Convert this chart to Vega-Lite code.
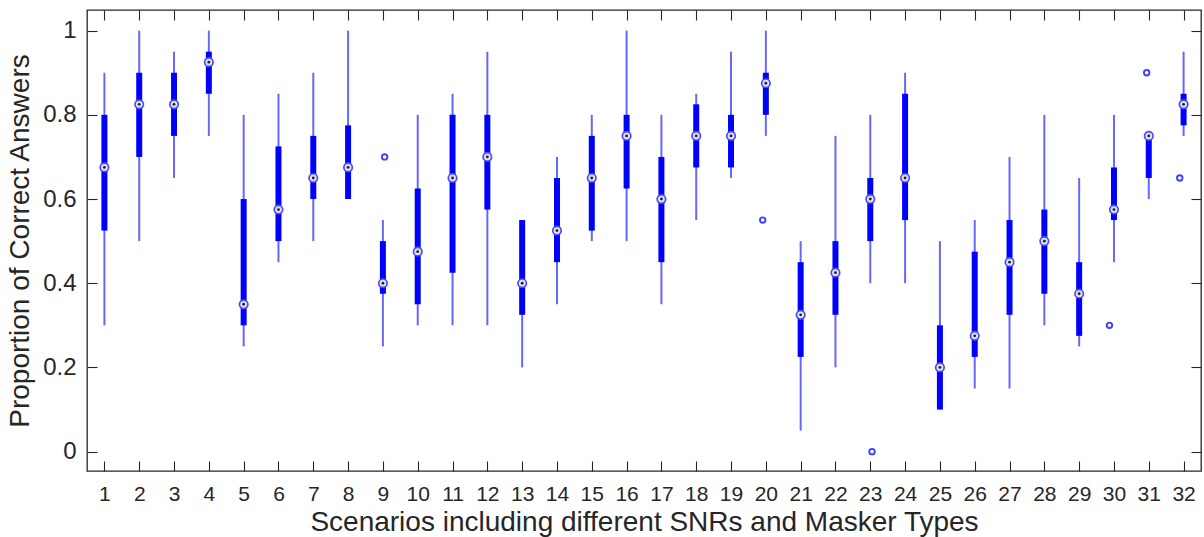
{
  "$schema": "https://vega.github.io/schema/vega-lite/v6.json",
  "width": 1114,
  "height": 461,
  "autosize": "none",
  "padding": {"left": 87, "top": 10, "right": 3, "bottom": 66},
  "background": "white",
  "config": {
    "view": {"stroke": "#262626", "strokeWidth": 1.3},
    "font": "Liberation Sans",
    "axis": {
      "domain": false,
      "grid": false,
      "tickSize": 10,
      "offset": -10,
      "tickColor": "#262626",
      "tickWidth": 1.1,
      "labelFont": "Liberation Sans",
      "labelColor": "#262626",
      "titleFont": "Liberation Sans",
      "titleColor": "#262626",
      "titleFontWeight": "normal",
      "titleFontSize": 28
    }
  },
  "datasets": {
    "boxes": [
      {"s": 1, "lo": 0.3, "q1": 0.525, "med": 0.675, "q3": 0.8, "hi": 0.9},
      {"s": 2, "lo": 0.5, "q1": 0.7, "med": 0.825, "q3": 0.9, "hi": 1.0},
      {"s": 3, "lo": 0.65, "q1": 0.75, "med": 0.825, "q3": 0.9, "hi": 0.95},
      {"s": 4, "lo": 0.75, "q1": 0.85, "med": 0.925, "q3": 0.95, "hi": 1.0},
      {"s": 5, "lo": 0.25, "q1": 0.3, "med": 0.35, "q3": 0.6, "hi": 0.8},
      {"s": 6, "lo": 0.45, "q1": 0.5, "med": 0.575, "q3": 0.725, "hi": 0.85},
      {"s": 7, "lo": 0.5, "q1": 0.6, "med": 0.65, "q3": 0.75, "hi": 0.9},
      {"s": 8, "lo": 0.6, "q1": 0.6, "med": 0.675, "q3": 0.775, "hi": 1.0},
      {"s": 9, "lo": 0.25, "q1": 0.375, "med": 0.4, "q3": 0.5, "hi": 0.55},
      {"s": 10, "lo": 0.3, "q1": 0.35, "med": 0.475, "q3": 0.625, "hi": 0.8},
      {"s": 11, "lo": 0.3, "q1": 0.425, "med": 0.65, "q3": 0.8, "hi": 0.85},
      {"s": 12, "lo": 0.3, "q1": 0.575, "med": 0.7, "q3": 0.8, "hi": 0.95},
      {"s": 13, "lo": 0.2, "q1": 0.325, "med": 0.4, "q3": 0.55, "hi": 0.55},
      {"s": 14, "lo": 0.35, "q1": 0.45, "med": 0.525, "q3": 0.65, "hi": 0.7},
      {"s": 15, "lo": 0.5, "q1": 0.525, "med": 0.65, "q3": 0.75, "hi": 0.8},
      {"s": 16, "lo": 0.5, "q1": 0.625, "med": 0.75, "q3": 0.8, "hi": 1.0},
      {"s": 17, "lo": 0.35, "q1": 0.45, "med": 0.6, "q3": 0.7, "hi": 0.8},
      {"s": 18, "lo": 0.55, "q1": 0.675, "med": 0.75, "q3": 0.825, "hi": 0.85},
      {"s": 19, "lo": 0.65, "q1": 0.675, "med": 0.75, "q3": 0.8, "hi": 0.95},
      {"s": 20, "lo": 0.75, "q1": 0.8, "med": 0.875, "q3": 0.9, "hi": 1.0},
      {"s": 21, "lo": 0.05, "q1": 0.225, "med": 0.325, "q3": 0.45, "hi": 0.5},
      {"s": 22, "lo": 0.2, "q1": 0.325, "med": 0.425, "q3": 0.5, "hi": 0.75},
      {"s": 23, "lo": 0.4, "q1": 0.5, "med": 0.6, "q3": 0.65, "hi": 0.8},
      {"s": 24, "lo": 0.4, "q1": 0.55, "med": 0.65, "q3": 0.85, "hi": 0.9},
      {"s": 25, "lo": 0.1, "q1": 0.1, "med": 0.2, "q3": 0.3, "hi": 0.5},
      {"s": 26, "lo": 0.15, "q1": 0.225, "med": 0.275, "q3": 0.475, "hi": 0.55},
      {"s": 27, "lo": 0.15, "q1": 0.325, "med": 0.45, "q3": 0.55, "hi": 0.7},
      {"s": 28, "lo": 0.3, "q1": 0.375, "med": 0.5, "q3": 0.575, "hi": 0.8},
      {"s": 29, "lo": 0.25, "q1": 0.275, "med": 0.375, "q3": 0.45, "hi": 0.65},
      {"s": 30, "lo": 0.45, "q1": 0.55, "med": 0.575, "q3": 0.675, "hi": 0.8},
      {"s": 31, "lo": 0.6, "q1": 0.65, "med": 0.75, "q3": 0.75, "hi": 0.75},
      {"s": 32, "lo": 0.75, "q1": 0.775, "med": 0.825, "q3": 0.85, "hi": 0.95}
    ],
    "outliers": [
      {"s": 9.05, "v": 0.7},
      {"s": 19.91, "v": 0.55},
      {"s": 23.05, "v": 0.0},
      {"s": 29.87, "v": 0.3},
      {"s": 30.94, "v": 0.9},
      {"s": 31.89, "v": 0.65}
    ]
  },
  "layer": [
    {
      "data": {"name": "boxes"},
      "mark": {"type": "rule", "color": "#0000ff", "strokeWidth": 2, "opacity": 0.6},
      "encoding": {
        "x": {
          "field": "s", "type": "quantitative",
          "scale": {"domain": [0.5, 32.5], "nice": false, "zero": false},
          "axis": {
            "orient": "bottom",
            "values": [1,2,3,4,5,6,7,8,9,10,11,12,13,14,15,16,17,18,19,20,21,22,23,24,25,26,27,28,29,30,31,32],
            "format": "d",
            "labelFontSize": 21,
            "labelPadding": 12,
            "title": "Scenarios including different SNRs and Masker Types",
            "titlePadding": 4
          }
        },
        "y": {
          "field": "lo", "type": "quantitative",
          "scale": {"domain": [-0.046, 1.049], "nice": false, "zero": false},
          "axis": {
            "orient": "left",
            "values": [0, 0.2, 0.4, 0.6, 0.8, 1],
            "format": "~g",
            "labelFontSize": 24,
            "labelPadding": 11,
            "title": "Proportion of Correct Answers",
            "titlePadding": 8
          }
        },
        "y2": {"field": "hi"}
      }
    },
    {
      "data": {"name": "boxes"},
      "mark": {"type": "rule", "color": "#0000ff", "strokeWidth": 6, "strokeCap": "butt"},
      "encoding": {
        "x": {"field": "s", "type": "quantitative", "axis": null},
        "y": {"field": "q1", "type": "quantitative", "axis": null},
        "y2": {"field": "q3"}
      }
    },
    {
      "data": {"name": "boxes"},
      "mark": {"type": "point", "shape": "circle", "filled": true, "fill": "#e2e2ea", "stroke": "#4a4aff", "strokeWidth": 1.7, "size": 72, "opacity": 1},
      "encoding": {
        "x": {"field": "s", "type": "quantitative", "axis": null},
        "y": {"field": "med", "type": "quantitative", "axis": null}
      }
    },
    {
      "data": {"name": "boxes"},
      "mark": {"type": "point", "shape": "circle", "filled": true, "color": "#222222", "size": 8, "opacity": 1},
      "encoding": {
        "x": {"field": "s", "type": "quantitative", "axis": null},
        "y": {"field": "med", "type": "quantitative", "axis": null}
      }
    },
    {
      "data": {"name": "outliers"},
      "mark": {"type": "point", "shape": "circle", "filled": false, "stroke": "#4040ff", "strokeWidth": 1.9, "size": 30, "opacity": 1},
      "encoding": {
        "x": {"field": "s", "type": "quantitative", "axis": null},
        "y": {"field": "v", "type": "quantitative", "axis": null}
      }
    },
    {
      "data": {"name": "boxes"},
      "mark": {"type": "rule", "opacity": 0},
      "encoding": {
        "x": {
          "field": "s", "type": "quantitative",
          "axis": {
            "orient": "top",
            "values": [1,2,3,4,5,6,7,8,9,10,11,12,13,14,15,16,17,18,19,20,21,22,23,24,25,26,27,28,29,30,31,32],
            "labels": false,
            "title": null
          }
        },
        "y": {
          "field": "lo", "type": "quantitative",
          "axis": {
            "orient": "right",
            "values": [0, 0.2, 0.4, 0.6, 0.8, 1],
            "labels": false,
            "title": null
          }
        }
      }
    }
  ],
  "resolve": {"axis": {"x": "independent", "y": "independent"}}
}
